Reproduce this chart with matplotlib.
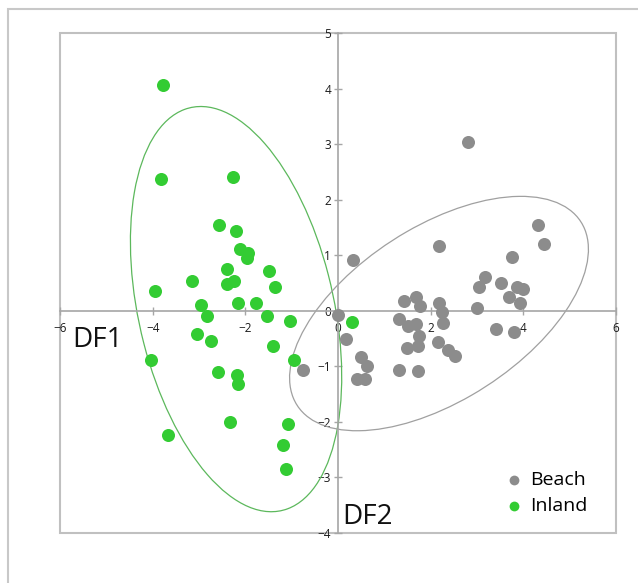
"""Discriminant function scores (DF1 vs DF2) for beach and inland sites."""

import matplotlib.pyplot as plt
import numpy as np
from matplotlib.patches import Ellipse, Rectangle

plt.rcParams["font.family"] = ["Open Sans", "DejaVu Sans"]

# --- data ---
beach_df1 = [0.32, 2.18, 3.75, 4.45, 4.31, 2.80, 3.17, 3.04, 3.52, 3.86,
             4.00, 3.69, 3.93, 3.01, 1.42, 1.69, 1.78, 2.18, 2.25, 2.27,
             -0.01, 1.32, 1.51, 1.68, 1.75, 1.73, 1.48, 2.16, 2.38, 2.52,
             3.40, 3.79, 0.18, 0.50, 0.63, -0.76, 1.32, 1.73, 0.42, 0.58]
beach_df2 = [0.91, 1.17, 0.97, 1.21, 1.54, 3.04, 0.60, 0.42, 0.50, 0.43,
             0.40, 0.24, 0.14, 0.05, 0.18, 0.24, 0.08, 0.14, -0.03, -0.22,
             -0.08, -0.14, -0.28, -0.24, -0.46, -0.63, -0.67, -0.57, -0.71, -0.82,
             -0.33, -0.39, -0.51, -0.84, -1.00, -1.07, -1.07, -1.09, -1.22, -1.23]

inland_df1 = [-3.78, -3.83, -2.26, -2.57, -2.20, -2.11, -1.94, -1.97, -2.39, -1.50,
              -3.15, -2.40, -2.24, -1.36, -3.94, -2.96, -2.16, -1.76, -2.82, -1.54,
              -1.04, -3.05, -2.74, -1.40, -4.04, -0.95, -2.58, -2.17, -2.16, -2.33,
              -1.08, -3.67, -1.18, -1.12, 0.31]
inland_df2 = [4.07, 2.38, 2.41, 1.54, 1.44, 1.11, 1.04, 0.95, 0.76, 0.72,
              0.54, 0.49, 0.53, 0.42, 0.36, 0.10, 0.14, 0.14, -0.09, -0.10,
              -0.18, -0.41, -0.54, -0.63, -0.89, -0.89, -1.11, -1.16, -1.32, -2.01,
              -2.04, -2.24, -2.41, -2.84, -0.20]

# ellipses: centre and (var_x, var_y, cov_xy) of the outline
beach_centre = (2.18, -0.05)
beach_shape = (10.4, 4.45, 3.73)
inland_centre = (-2.2, 0.03)
inland_shape = (5.2, 13.3, -2.77)

GREEN = "#33cc33"
GRAY = "#8c8c8c"
AXIS_GRAY = "#a6a6a6"


def outline(centre, shape, color):
    vx, vy, cxy = shape
    w, v = np.linalg.eigh(np.array([[vx, cxy], [cxy, vy]]))
    angle = np.degrees(np.arctan2(v[1, 1], v[0, 1]))
    return Ellipse(centre, 2 * np.sqrt(w[1]), 2 * np.sqrt(w[0]), angle=angle,
                   fill=False, edgecolor=color, linewidth=0.9, zorder=2)


fig = plt.figure(figsize=(6.38, 5.83), dpi=100)
ax = fig.add_axes([60 / 638, 1 - 533 / 583, 556 / 638, 500 / 583])

ax.add_patch(outline(inland_centre, inland_shape, "#5cb85c"))
ax.add_patch(outline(beach_centre, beach_shape, "#a0a0a0"))

ax.scatter(beach_df1, beach_df2, s=88, color=GRAY, linewidths=0, zorder=3, label="Beach")
ax.scatter(inland_df1, inland_df2, s=88, color=GREEN, linewidths=0, zorder=3, label="Inland")

ax.set_xlim(-6, 6)
ax.set_ylim(-4, 5)
ax.set_xticks(np.arange(-6, 7, 2))
ax.set_yticks(np.arange(-4, 6, 1))

ax.spines["left"].set_position("zero")
ax.spines["bottom"].set_position("zero")
ax.spines["top"].set_visible(False)
ax.spines["right"].set_visible(False)
for side in ("left", "bottom"):
    ax.spines[side].set_color(AXIS_GRAY)
    ax.spines[side].set_linewidth(1.2)
ax.tick_params(direction="inout", length=6, width=1, color=AXIS_GRAY,
               labelsize=8.5, labelcolor="#1a1a1a")
ax.tick_params(axis="x", pad=5)
ax.tick_params(axis="y", pad=2)

# plot-area frame
ax.add_patch(Rectangle((0, 0), 1, 1, transform=ax.transAxes, fill=False,
                       edgecolor="#c0c0c0", linewidth=1.5, zorder=0, clip_on=False))

fig.text(72 / 638, 1 - 340 / 583, "DF1", fontsize=20, va="center", ha="left", color="#111111")
fig.text(342 / 638, 1 - 531 / 583, "DF2", fontsize=20, va="bottom", ha="left", color="#111111")

ax.legend(loc="upper left", bbox_to_anchor=(493 / 638, 1 - 461 / 583),
          bbox_transform=fig.transFigure, frameon=False, fontsize=14,
          markerscale=0.75, handletextpad=0.2, labelspacing=0.45,
          borderpad=0, handlelength=1.2)

# outer chart border (continues past the right and bottom edges)
fig.patches.append(Rectangle((8 / 638, -0.1), 2, 1 - 9 / 583 + 0.1,
                             transform=fig.transFigure, fill=False,
                             edgecolor="#c8c8c8", linewidth=1.5))

fig.savefig("out.png", dpi=100)
